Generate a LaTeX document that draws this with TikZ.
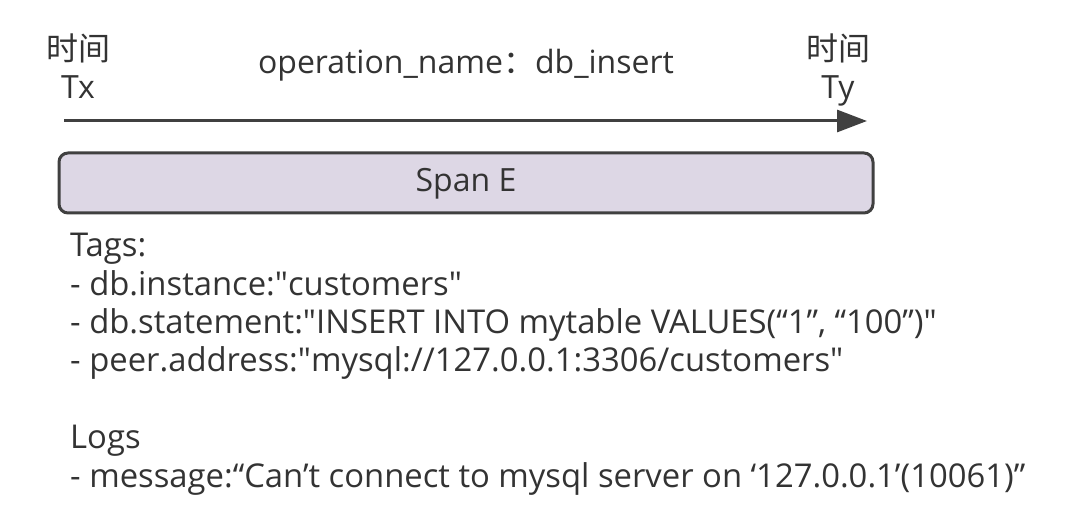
\documentclass[tikz,border=0pt]{standalone}
\usepackage{fontspec}
\setmainfont{Open Sans}
\newfontfamily\cjk{Noto Sans CJK SC}
\usetikzlibrary{positioning,calc}
\usetikzlibrary{arrows.meta}
\definecolor{SpanInk}{RGB}{51,51,51}
\definecolor{SpanLine}{RGB}{64,64,64}
\definecolor{SpanFill}{RGB}{221,215,229}
\tikzset{txt/.style={text=SpanInk,inner sep=0pt,font=\fontsize{32}{38}\selectfont}, timeline/.style={draw=SpanLine,line width=3pt,-{Triangle[length=30pt,width=22pt]}}, spanbox/.style={draw=SpanLine,fill=SpanFill,line width=3pt,rounded corners=9pt}}

\begin{document}
\begin{tikzpicture}[x=1pt,y=-1pt]
\useasboundingbox (0,0) rectangle (1086,518);
\coordinate (ta) at (64,121);
\coordinate (tb) at (867,121);
\coordinate (ba) at (59,153);
\coordinate (bb) at (873,213);
\draw[timeline] (ta)--(tb);
\draw[spanbox] (ba) rectangle (bb);
\node[txt,align=center] (tx) at (78,66) {{\cjk 时间}\\Tx};
\node[txt,align=center] (ty) at (838,70) {{\cjk 时间}\\Ty};
\node[txt] (op) at (466,65) {operation\_name{\cjk ：}db\_insert};
\node[txt] (span) at ($(ba)!0.5!(bb)+(0,1)$) {Span E};
\node[txt,font=\fontsize{32.8}{38.4}\selectfont,align=left,anchor=base west] (tags) at (70,487) {Tags:\\
- db.instance:\textquotedbl customers\textquotedbl\\
- db.statement:\textquotedbl INSERT INTO mytable VALUES(“1”, “100”)\textquotedbl\\
- peer.address:\textquotedbl mysql://127.0.0.1:3306/customers\textquotedbl\\[38.4pt]
Logs\\
- message:“Can’t connect to mysql server on ‘127.0.0.1’(10061)”};
\end{tikzpicture}
\end{document}
